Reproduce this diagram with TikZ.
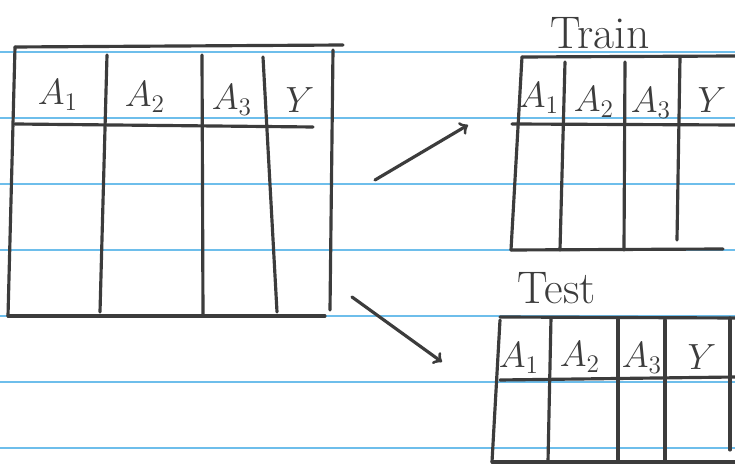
\documentclass[tikz,border=0pt]{standalone}
\usepackage{amsmath}
\usepackage{xcolor}
\usetikzlibrary{calc}
\definecolor{paperblue}{RGB}{110,190,235}
\definecolor{pencil}{RGB}{60,60,60}

\begin{document}
\begin{tikzpicture}[x=0.02cm, y=-0.02cm,
    ruled/.style={color=paperblue, line width=0.9pt},
    pen/.style={color=pencil, line width=1.8pt, line cap=round},
    head/.style={font=\fontsize{21}{24}\selectfont, text=pencil},
    title/.style={font=\fontsize{26}{30}\selectfont, text=pencil}]
            \useasboundingbox (0, 0) rectangle (735, 465);
            \fill[white] (0, 0) rectangle (735, 465);
            \foreach \y in {52, 118, 184, 250, 316, 382, 448}
                \draw[ruled] (0, \y) -- (735, \y);

            % full data set
            \draw[pen] (15, 47) -- (343, 45);
            \draw[pen] (15, 47) -- (8, 316);
            \draw[pen] (8, 316) -- (325, 316);
            \draw[pen] (333, 50) -- (330, 310);
            \draw[pen] (15, 124) -- (313, 127);
            \draw[pen] (107, 55) -- (100, 312);
            \draw[pen] (202, 55) -- (203, 316);
            \draw[pen] (263, 57) -- (277, 312);
            \node[head] (full1) at (58, 95) {$A_1$};
            \node[head] (full2) at (145, 97) {$A_2$};
            \node[head] (full3) at (232, 100) {$A_3$};
            \node[head] (fully) at (300, 100) {$Y$};

            % train split
            \node[title] (train) at (600, 33) {Train};
            \draw[pen] (522, 57) -- (735, 56);
            \draw[pen] (522, 57) -- (511, 250);
            \draw[pen] (511, 250) -- (723, 249);
            \draw[pen] (512, 124) -- (735, 125);
            \draw[pen] (565, 62) -- (560, 250);
            \draw[pen] (625, 62) -- (624, 250);
            \draw[pen] (680, 58) -- (677, 240);
            \node[head] (train1) at (539, 98) {$A_1$};
            \node[head] (train2) at (594, 102) {$A_2$};
            \node[head] (train3) at (651, 103) {$A_3$};
            \node[head] (trainy) at (712, 100) {$Y$};

            % test split
            \node[title] (test) at (557, 288) {Test};
            \draw[pen] (500, 317) -- (735, 318);
            \draw[pen] (500, 320) -- (492, 462);
            \draw[pen] (492, 462) -- (735, 462);
            \draw[pen] (500, 380) -- (735, 377);
            \draw[pen] (551, 318) -- (548, 462);
            \draw[pen] (618, 318) -- (618, 462);
            \draw[pen] (665, 320) -- (665, 462);
            \draw[pen] (730, 318) -- (730, 450);
            \node[head] (test1) at (519, 358) {$A_1$};
            \node[head] (test2) at (580, 357) {$A_2$};
            \node[head] (test3) at (642, 358) {$A_3$};
            \node[head] (testy) at (702, 357) {$Y$};

            % split arrows
            \coordinate (upfrom) at (375, 180);
            \coordinate (upto) at (468, 125);
            \coordinate (downfrom) at (352, 297);
            \coordinate (downto) at (442, 362);
            \draw[pen, -to] (upfrom) -- (upto);
            \draw[pen, -to] (downfrom) -- (downto);

        \end{tikzpicture}
\end{document}
